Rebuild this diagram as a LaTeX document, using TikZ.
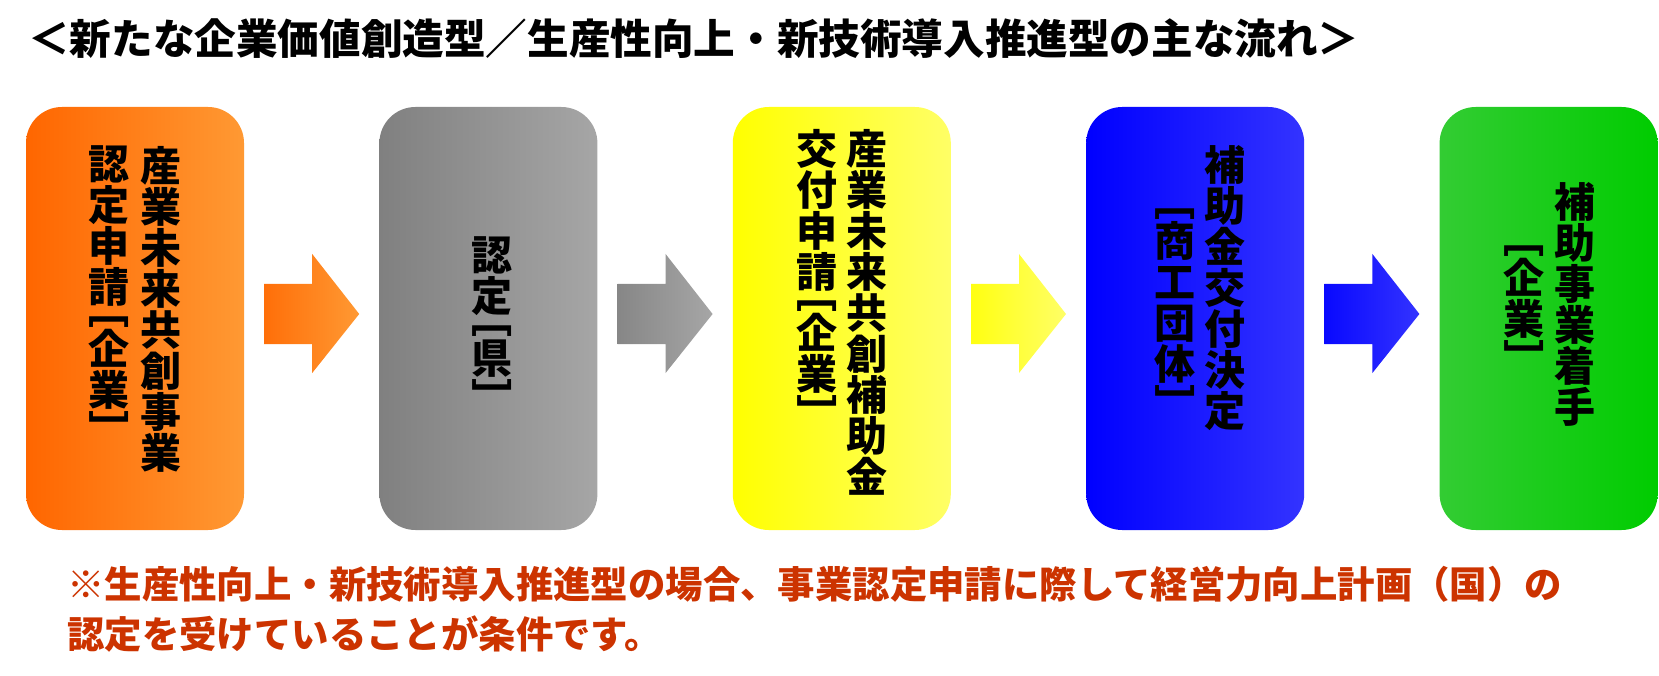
\documentclass[tikz,border=0pt]{standalone}
\usepackage{fontspec}
\newfontfamily\jp{Noto Sans CJK JP}
\usetikzlibrary{positioning}

\definecolor{orgL}{RGB}{255,102,0}
\definecolor{orgR}{RGB}{255,153,51}
\definecolor{gryL}{RGB}{128,128,128}
\definecolor{gryR}{RGB}{166,166,166}
\definecolor{ylwL}{RGB}{255,255,0}
\definecolor{ylwR}{RGB}{255,255,102}
\definecolor{bluL}{RGB}{0,0,255}
\definecolor{bluR}{RGB}{51,51,255}
\definecolor{grnL}{RGB}{51,204,51}
\definecolor{grnR}{RGB}{0,204,0}
\definecolor{noteRed}{RGB}{204,51,0}

% brackets turned for vertical writing
\newcommand{\lbk}{\raisebox{0.38em}{\rotatebox{-90}{\makebox[0.5em][r]{［}}}}
\newcommand{\rbk}{\raisebox{0.38em}{\rotatebox{-90}{\makebox[0.5em][l]{］}}}}

\tikzset{
  box/.style={rounded corners=36pt, minimum width=218pt, minimum height=423pt, inner sep=0pt},
  tate/.style={font=\jp\bfseries\fontsize{41}{41}\selectfont, align=center, inner sep=0pt},
}

\begin{document}
\begin{tikzpicture}[x=1pt, y=-1pt, node distance=135pt]
    \useasboundingbox (0,0) rectangle (1659,676);

    \node[anchor=west, inner sep=0pt, font=\jp\bfseries\fontsize{41.6}{41.6}\selectfont] (title) at (28,39)
        {＜新たな企業価値創造型／生産性向上・新技術導入推進型の主な流れ＞};

    % steps
    \node[box, left color=orgL, right color=orgR] (b1) at (135,318.5) {};
    \node[box, left color=gryL, right color=gryR, right=of b1] (b2) {};
    \node[box, left color=ylwL, right color=ylwR, right=of b2] (b3) {};
    \node[box, left color=bluL, right color=bluR, right=of b3] (b4) {};
    \node[box, left color=grnL, right color=grnR, right=of b4] (b5) {};

    \node[tate, below=39pt of b1.north, xshift=26pt] (t1a) {産\\業\\未\\来\\共\\創\\事\\業};
    \node[tate, below=39pt of b1.north, xshift=-26pt] (t1b) {認\\定\\申\\請\\[-0.5em]\lbk\\企\\業\\[-0.5em]\rbk};

    \node[tate, below=130pt of b2.north, xshift=4pt] (t2a) {認\\定\\[-0.5em]\lbk\\県\\[-0.5em]\rbk};

    \node[tate, below=22pt of b3.north, xshift=25pt] (t3a) {産\\業\\未\\来\\共\\創\\補\\助\\金};
    \node[tate, below=22pt of b3.north, xshift=-25pt] (t3b) {交\\付\\申\\請\\[-0.5em]\lbk\\企\\業\\[-0.5em]\rbk};

    \node[tate, below=38pt of b4.north, xshift=30pt] (t4a) {補\\助\\金\\交\\付\\決\\定};
    \node[tate, below=93pt of b4.north, xshift=-20pt] (t4b) {\lbk\\商\\工\\団\\体\\[-0.5em]\rbk};

    \node[tate, below=75pt of b5.north, xshift=26pt] (t5a) {補\\助\\事\\業\\着\\手};
    \node[tate, below=130pt of b5.north, xshift=-25pt] (t5b) {\lbk\\企\\業\\[-0.5em]\rbk};

    % block arrows
    \foreach \a/\cl/\cr in {b1/orgL/orgR, b2/gryL/gryR, b3/ylwL/ylwR, b4/bluL/bluR}
        \shade[left color=\cl, right color=\cr] (\a.east) ++(20,-34.5) -- ++(48,0) -- ++(0,-30)
            -- ++(47,60) -- ++(-47,59) -- ++(0,-29) -- ++(-48,0) -- cycle;

    \node[anchor=north west, align=left, inner sep=0pt, text=noteRed,
          font=\jp\bfseries\fontsize{37.4}{50}\selectfont] (note) at (67,566)
        {※生産性向上・新技術導入推進型の場合、事業認定申請に際して経営力向上計画（国）の\\認定を受けていることが条件です。};
\end{tikzpicture}
\end{document}
